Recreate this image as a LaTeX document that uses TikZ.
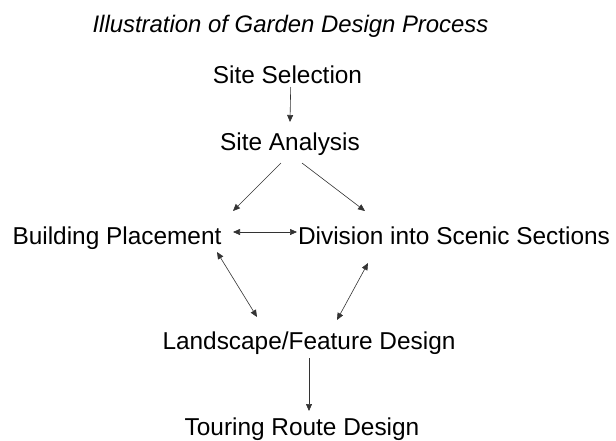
\documentclass[tikz,border=0pt]{standalone}
\usepackage{fontspec}
\setmainfont{Liberation Sans}
\usetikzlibrary{arrows.meta}
\begin{document}
\begin{tikzpicture}[x=1pt,y=1pt,
  label text/.style={anchor=base,inner sep=0pt,font=\fontsize{24.4}{29}\selectfont},
  heading/.style={anchor=base,inner sep=0pt,font=\fontsize{23.9}{29}\selectfont\itshape},
  flow/.style={draw=black!80,line width=0.6pt,-{Triangle[length=7pt,width=6pt]}},
  twoway/.style={draw=black!80,line width=0.6pt,{Triangle[length=7pt,width=6pt]}-{Triangle[length=7pt,width=6pt]}}]
\useasboundingbox (0,0) rectangle (616,-440);

% stage labels
\node[heading]    (title) at (290.5,-32) {Illustration of Garden Design Process};
\node[label text] (ss)    at (287.5,-83) {Site Selection};
\node[label text] (sa)    at (290,-150)  {Site Analysis};
\node[label text] (bp)    at (117,-244)  {Building Placement};
\node[label text] (div)   at (454,-244)  {Division into Scenic Sections};
\node[label text] (lf)    at (309,-349)  {Landscape/Feature Design};
\node[label text] (tr)    at (302,-435)  {Touring Route Design};

% connectors between stages
\draw[flow]   ([shift={(3.2,-4)}]ss.base)  -- ([shift={(0,28)}]sa.base);
\draw[flow]   ([shift={(-9,-13)}]sa.base)  -- ([shift={(116,33)}]bp.base);
\draw[flow]   ([shift={(12,-13)}]sa.base)  -- ([shift={(-89,33)}]div.base);
\draw[twoway] ([shift={(116,12)}]bp.base)  -- ([shift={(-157,12)}]div.base);
\draw[twoway] ([shift={(100,-8)}]bp.base)  -- ([shift={(-52,32)}]lf.base);
\draw[twoway] ([shift={(-86,-19)}]div.base) -- ([shift={(28,29)}]lf.base);
\draw[flow]   ([shift={(0,-9)}]lf.base)    -- ([shift={(7,24)}]tr.base);
\end{tikzpicture}
\end{document}
